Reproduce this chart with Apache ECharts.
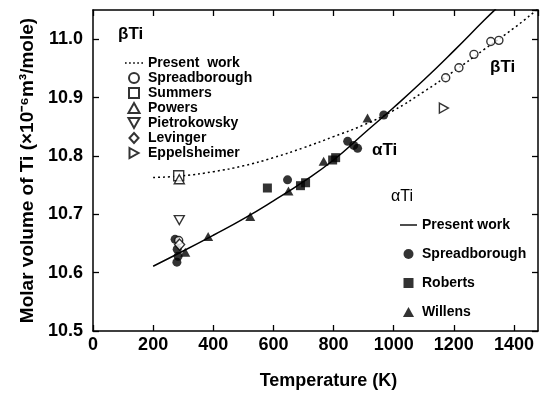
<!DOCTYPE html>
<html>
<head>
<meta charset="utf-8">
<script src="https://cdn.jsdelivr.net/npm/echarts@6/dist/echarts.min.js"></script>
<style>
html,body{margin:0;padding:0;background:#fff;}
#chart{width:545px;height:395px;}
</style>
</head>
<body>
<div id="chart"></div>
<script>
// ---- data ----
const xTicks = [0, 200, 400, 600, 800, 1000, 1200, 1400];
const yTicks = [10.5, 10.6, 10.7, 10.8, 10.9, 11.0];

// alpha Ti, present work (solid)
const alphaWorkT = [200, 300, 400, 500, 600, 700, 800, 900, 1000, 1100, 1200, 1300, 1340];
const alphaWorkV = [10.611, 10.637, 10.664, 10.692, 10.723, 10.756, 10.793, 10.838, 10.883, 10.930, 10.980, 11.032, 11.052];

// beta Ti, present work (dotted)
const betaWorkT = [200, 300, 400, 500, 600, 700, 800, 900, 1000, 1100, 1200, 1300, 1400, 1480];
const betaWorkV = [10.763, 10.766, 10.773, 10.783, 10.797, 10.814, 10.833, 10.853, 10.878, 10.910, 10.945, 10.982, 11.019, 11.052];

// beta Ti (open symbols)
const betaSpreadT = [285, 1173, 1217, 1267, 1323, 1350];
const betaSpreadV = [10.655, 10.934, 10.951, 10.974, 10.996, 10.998];
const summersT = [285];
const summersV = [10.766];
const powersT = [287];
const powersV = [10.760];
const pietroT = [287];
const pietroV = [10.690];
const levingerT = [288];
const levingerV = [10.648];
const eppelT = [1167];
const eppelV = [10.882];

// alpha Ti (filled symbols)
const alphaSpreadT = [273, 280, 283, 279, 647, 847, 867, 880, 967];
const alphaSpreadV = [10.657, 10.640, 10.628, 10.618, 10.759, 10.825, 10.818, 10.813, 10.870];
const robertsT = [580, 690, 707, 797, 807];
const robertsV = [10.745, 10.749, 10.754, 10.793, 10.797];
const willensT = [307, 383, 523, 650, 767, 913];
const willensV = [10.635, 10.662, 10.696, 10.740, 10.791, 10.865];

const zip = (a, b) => a.map((v, i) => [v, b[i]]);

const FONT = 'Liberation Sans, Arial, Helvetica, sans-serif';
const openStyle = {color: '#fff', borderColor: '#000', borderWidth: 1.4};
const fillStyle = {color: '#000', borderColor: '#000', borderWidth: 0};

const SYM = {
  up: 'path://M5,0L10,9L0,9Z',
  down: 'path://M0,0L10,0L5,9Z',
  right: 'path://M0,0L9,5L0,10Z',
  square: 'path://M0,0H10V10H0Z',
  diamond: 'path://M5,0L10,5.5L5,11L0,5.5Z',
  dotted: 'path://M0,0h1.6v1.6h-1.6z M4,0h1.6v1.6h-1.6z M8,0h1.6v1.6h-1.6z M12,0h1.6v1.6h-1.6z M16,0h1.6v1.6h-1.6z',
  solid: 'path://M0,0h17v1.4h-17z'
};

const chart = echarts.init(document.getElementById('chart'), null, {renderer: 'canvas'});

const axisCommon = {
  min: 0, max: 1480, interval: 200,
  axisLine: {show: true, onZero: false, lineStyle: {color: '#000', width: 1.5}},
  axisTick: {show: true, inside: true, length: 6, lineStyle: {color: '#000', width: 1.3}},
  splitLine: {show: false}
};
const yCommon = {
  min: 10.5, max: 11.05, interval: 0.1,
  axisLine: {show: true, onZero: false, lineStyle: {color: '#000', width: 1.5}},
  axisTick: {show: true, inside: true, length: 6, lineStyle: {color: '#000', width: 1.3}},
  splitLine: {show: false}
};

const option = {
  animation: false,
  backgroundColor: '#fff',
  grid: {left: 93, right: 7, top: 10, bottom: 61, containLabel: false},
  xAxis: [
    Object.assign({}, axisCommon, {
      type: 'value', position: 'bottom',
      name: 'Temperature (K)', nameLocation: 'middle', nameGap: 41,
      nameTextStyle: {fontFamily: FONT, fontSize: 18, fontWeight: 'bold', color: '#000', padding: [0, 0, 0, 26]},
      axisLabel: {
        show: true, margin: 5, showMaxLabel: false,
        fontFamily: FONT, fontSize: 18, fontWeight: 'bold', color: '#000',
        formatter: v => xTicks.includes(v) ? String(v) : ''
      }
    }),
    Object.assign({}, axisCommon, {
      type: 'value', position: 'top', axisLabel: {show: false}
    })
  ],
  yAxis: [
    Object.assign({}, yCommon, {
      type: 'value', position: 'left',
      name: 'Molar volume of Ti (×10⁻⁶m³/mole)', nameLocation: 'middle', nameGap: 54,
      nameTextStyle: {fontFamily: FONT, fontSize: 19, fontWeight: 'bold', color: '#000'},
      axisLabel: {
        show: true, margin: 10, showMaxLabel: false,
        fontFamily: FONT, fontSize: 18, fontWeight: 'bold', color: '#000',
        formatter: v => {
          const hit = yTicks.find(t => Math.abs(t - v) < 1e-6);
          return hit !== undefined ? hit.toFixed(1) : '';
        }
      }
    }),
    Object.assign({}, yCommon, {
      type: 'value', position: 'right', axisLabel: {show: false}
    })
  ],
  legend: [
    {
      orient: 'vertical', left: 125, top: 56, padding: 0, itemGap: 1,
      itemWidth: 18, itemHeight: 10, symbolKeepAspect: true,
      textStyle: {fontFamily: FONT, fontSize: 14, fontWeight: 'bold', color: '#000'},
      data: [{name: 'Present  work', icon: SYM.dotted}, 'Spreadborough', 'Summers', 'Powers', 'Pietrokowsky', 'Levinger', 'Eppelsheimer']
    },
    {
      orient: 'vertical', left: 400, top: 218, padding: 0, itemGap: 15,
      itemWidth: 17, itemHeight: 10, symbolKeepAspect: true,
      textStyle: {fontFamily: FONT, fontSize: 14, fontWeight: 'bold', color: '#000'},
      data: [{name: 'Present work', icon: SYM.solid}, 'Spreadborough\u200b', 'Roberts', 'Willens']
    }
  ],
  graphic: [
    {type: 'text', left: 118, top: 26, style: {text: 'βTi', font: 'bold 17px ' + FONT, fill: '#000'}},
    {type: 'text', left: 391, top: 189, style: {text: 'αTi', font: '16px ' + FONT, fill: '#000'}},
    {type: 'text', left: 372, top: 142, style: {text: 'αTi', font: 'bold 17px ' + FONT, fill: '#000'}},
    {type: 'text', left: 490, top: 59, style: {text: 'βTi', font: 'bold 17px ' + FONT, fill: '#000'}}
  ],
  series: [
    {
      name: 'Present  work', type: 'line', smooth: true, symbol: 'none',
      data: zip(betaWorkT, betaWorkV),
      lineStyle: {color: '#000', width: 1.5, type: [2, 3]},
      itemStyle: {color: '#000'}, z: 2
    },
    {
      name: 'Present work', type: 'line', smooth: true, symbol: 'none',
      data: zip(alphaWorkT, alphaWorkV),
      lineStyle: {color: '#000', width: 1.5, type: 'solid'},
      itemStyle: {color: '#000'}, z: 2
    },
    {name: 'Spreadborough', type: 'scatter', symbol: 'circle', symbolSize: 8,
      data: zip(betaSpreadT, betaSpreadV), itemStyle: openStyle, z: 4},
    {name: 'Summers', type: 'scatter', symbol: SYM.square, symbolSize: 10, symbolKeepAspect: true,
      data: zip(summersT, summersV), itemStyle: openStyle, z: 4},
    {name: 'Powers', type: 'scatter', symbol: SYM.up, symbolSize: 10, symbolKeepAspect: true,
      data: zip(powersT, powersV), itemStyle: openStyle, z: 5},
    {name: 'Pietrokowsky', type: 'scatter', symbol: SYM.down, symbolSize: 10, symbolKeepAspect: true,
      data: zip(pietroT, pietroV), itemStyle: openStyle, z: 4},
    {name: 'Levinger', type: 'scatter', symbol: SYM.diamond, symbolSize: 11, symbolKeepAspect: true,
      data: zip(levingerT, levingerV), itemStyle: openStyle, z: 4},
    {name: 'Eppelsheimer', type: 'scatter', symbol: SYM.right, symbolSize: 10, symbolKeepAspect: true,
      data: zip(eppelT, eppelV), itemStyle: openStyle, z: 4},
    {name: 'Spreadborough\u200b', type: 'scatter', symbol: 'circle', symbolSize: 9,
      data: zip(alphaSpreadT, alphaSpreadV), itemStyle: fillStyle, z: 3},
    {name: 'Roberts', type: 'scatter', symbol: SYM.square, symbolSize: 9, symbolKeepAspect: true,
      data: zip(robertsT, robertsV), itemStyle: fillStyle, z: 3},
    {name: 'Willens', type: 'scatter', symbol: SYM.up, symbolSize: 10, symbolKeepAspect: true,
      data: zip(willensT, willensV), itemStyle: fillStyle, z: 3}
  ]
};

chart.setOption(option);
</script>
</body>
</html>
